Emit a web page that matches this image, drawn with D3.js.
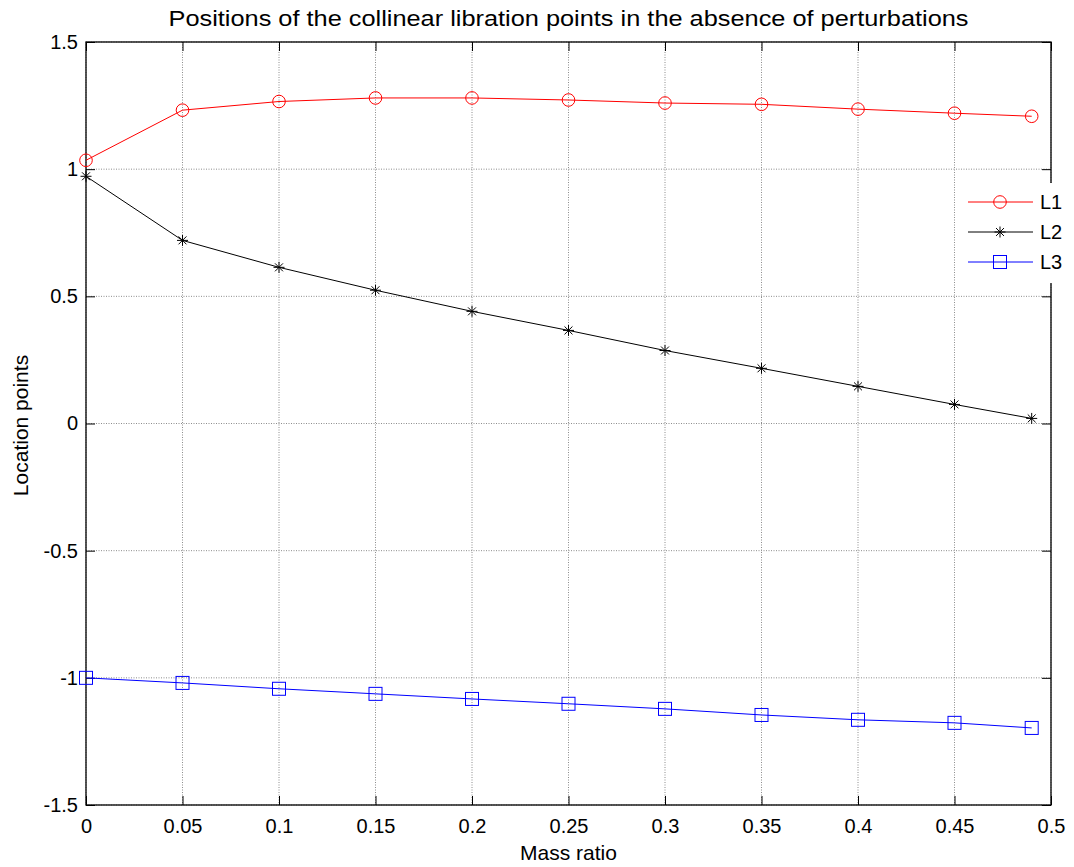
<!DOCTYPE html>
<html>
<head>
<meta charset="utf-8">
<script src="https://cdn.jsdelivr.net/npm/d3@7"></script>
<style>
  html, body { margin: 0; padding: 0; background: #fff; }
  svg { display: block; font-family: "Liberation Sans", Arial, sans-serif; }
</style>
</head>
<body>
<svg id="chart" width="1074" height="867"></svg>
<script>
// Mass ratio samples
const massRatio = [0, 0.05, 0.1, 0.15, 0.2, 0.25, 0.3, 0.35, 0.4, 0.45, 0.49];
// Collinear libration point locations
const L1 = [1.035, 1.232, 1.266, 1.28, 1.28, 1.272, 1.26, 1.255, 1.236, 1.22, 1.208];
const L2 = [0.972, 0.72, 0.614, 0.524, 0.441, 0.366, 0.287, 0.217, 0.146, 0.075, 0.02];
const L3 = [-1.0, -1.02, -1.043, -1.063, -1.083, -1.102, -1.122, -1.146, -1.165, -1.177, -1.197];
const xTicks = [0, 0.05, 0.1, 0.15, 0.2, 0.25, 0.3, 0.35, 0.4, 0.45, 0.5];
const yTicks = [-1.5, -1, -0.5, 0, 0.5, 1, 1.5];
const seriesNames = ["L1", "L2", "L3"];
const seriesColors = ["#ff0000", "#000000", "#0000ff"];
const seriesMarkers = ["circle", "star", "square"];

const svg = d3.select("#chart");
const pLeft = 86, pRight = 1051, pTop = 42, pBottom = 805;

const x = d3.scaleLinear().domain([0, 0.5]).range([pLeft, pRight]);
const y = d3.scaleLinear().domain([-1.5, 1.5]).range([pBottom, pTop]);

const fmt = v => (v === 0 ? "0" : String(v));

// dotted grid
const grid = svg.append("g");
xTicks.forEach(t => {
  grid.append("line").attr("x1", x(t)).attr("x2", x(t)).attr("y1", pTop).attr("y2", pBottom)
    .attr("stroke", "#8c8c8c").attr("stroke-width", 1).attr("stroke-dasharray", "1,1.5");
});
yTicks.forEach(t => {
  grid.append("line").attr("x1", pLeft).attr("x2", pRight).attr("y1", y(t)).attr("y2", y(t))
    .attr("stroke", "#8c8c8c").attr("stroke-width", 1).attr("stroke-dasharray", "1,1.5");
});

// axes with inward ticks on all four sides
const tickLen = 9;
const xAxisB = d3.axisBottom(x).tickValues(xTicks).tickSize(-tickLen).tickPadding(14).tickFormat(fmt);
const xAxisT = d3.axisTop(x).tickValues(xTicks).tickSize(-tickLen).tickFormat("");
const yAxisL = d3.axisLeft(y).tickValues(yTicks).tickSize(-tickLen).tickPadding(8).tickFormat(fmt);
const yAxisR = d3.axisRight(y).tickValues(yTicks).tickSize(-tickLen).tickFormat("");

function styleAxis(g) {
  g.select(".domain").remove();
  g.selectAll(".tick line").attr("stroke", "#000");
  g.selectAll(".tick text").attr("fill", "#000").style("font-size", "20px")
    .style("font-family", "'Liberation Sans', Arial, sans-serif");
}
svg.append("g").attr("transform", `translate(0,${pBottom})`).call(xAxisB).call(styleAxis);
svg.append("g").attr("transform", `translate(0,${pTop})`).call(xAxisT).call(styleAxis);
svg.append("g").attr("transform", `translate(${pLeft},0)`).call(yAxisL).call(styleAxis)
  .selectAll(".tick line").attr("x2", tickLen);
svg.append("g").attr("transform", `translate(${pRight},0)`).call(yAxisR).call(styleAxis);

// frame
svg.append("rect").attr("x", pLeft).attr("y", pTop).attr("width", pRight - pLeft).attr("height", pBottom - pTop)
  .attr("fill", "none").attr("stroke", "#000").attr("stroke-width", 1.3);

// marker drawing
function drawMarker(g, type, cx, cy, color) {
  if (type === "circle") {
    g.append("circle").attr("cx", cx).attr("cy", cy).attr("r", 6.3)
      .attr("fill", "none").attr("stroke", color).attr("stroke-width", 1);
  } else if (type === "square") {
    g.append("rect").attr("x", cx - 6.5).attr("y", cy - 6.5).attr("width", 13).attr("height", 13)
      .attr("fill", "none").attr("stroke", color).attr("stroke-width", 1);
  } else {
    const r = 5.5;
    const path = d3.path();
    path.moveTo(cx - r, cy); path.lineTo(cx + r, cy);
    path.moveTo(cx, cy - r); path.lineTo(cx, cy + r);
    const d = r * 0.72;
    path.moveTo(cx - d, cy - d); path.lineTo(cx + d, cy + d);
    path.moveTo(cx - d, cy + d); path.lineTo(cx + d, cy - d);
    g.append("path").attr("d", path.toString()).attr("stroke", color).attr("stroke-width", 1).attr("fill", "none");
  }
}

const allSeries = [L1, L2, L3];
const line = d3.line().x(d => x(d[0])).y(d => y(d[1]));
allSeries.forEach((vals, i) => {
  const pts = massRatio.map((m, j) => [m, vals[j]]);
  const g = svg.append("g");
  g.append("path").attr("d", line(pts)).attr("fill", "none")
    .attr("stroke", seriesColors[i]).attr("stroke-width", 1);
  pts.forEach(p => drawMarker(g, seriesMarkers[i], x(p[0]), y(p[1]), seriesColors[i]));
});

// legend
const leg = svg.append("g");
leg.append("rect").attr("x", 955).attr("y", 183).attr("width", 100).attr("height", 100).attr("fill", "#fff");
seriesNames.forEach((name, i) => {
  const ly = 202 + i * 30;
  leg.append("line").attr("x1", 968).attr("x2", 1033).attr("y1", ly).attr("y2", ly)
    .attr("stroke", seriesColors[i]).attr("stroke-width", 1);
  drawMarker(leg, seriesMarkers[i], 1000, ly, seriesColors[i]);
  leg.append("text").attr("x", 1040).attr("y", ly).attr("dy", "0.35em")
    .style("font-size", "20px").attr("fill", "#000").text(name);
});

// title and axis labels
svg.append("text").attr("x", (pLeft + pRight) / 2).attr("y", 26).attr("text-anchor", "middle")
  .style("font-size", "22px").attr("fill", "#000")
  .attr("textLength", 800).attr("lengthAdjust", "spacingAndGlyphs")
  .text("Positions of the collinear libration points in the absence of perturbations");
svg.append("text").attr("x", (pLeft + pRight) / 2).attr("y", 860).attr("text-anchor", "middle")
  .style("font-size", "21px").attr("fill", "#000").text("Mass ratio");
svg.append("text").attr("transform", `translate(28,${(pTop + pBottom) / 2 + 2}) rotate(-90)`)
  .attr("text-anchor", "middle").style("font-size", "21px").attr("fill", "#000").text("Location points");
</script>
</body>
</html>
